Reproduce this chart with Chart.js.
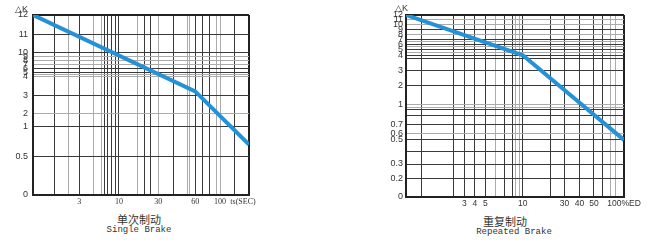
<!DOCTYPE html>
<html>
<head>
<meta charset="utf-8">
<script src="https://cdn.jsdelivr.net/npm/chart.js@4.4.1/dist/chart.umd.min.js"></script>
<style>
  body { margin: 0; background: #fff; width: 650px; height: 251px; position: relative; overflow: hidden; }
  canvas { position: absolute; top: 0; }
  .dk { position: absolute; font: 9px "Liberation Sans", Arial, sans-serif; line-height: 10px; color: #333; }
  .cn { position: absolute; width: 200px; text-align: center; font: 11px "Noto Sans CJK SC", sans-serif; line-height: 12px; color: #333; }
  .en { position: absolute; width: 200px; text-align: center; font: 9px "Liberation Mono", monospace; line-height: 10px; color: #333; }
</style>
</head>
<body>
<canvas id="singleChart" width="262" height="210" style="left:0"></canvas>
<canvas id="repeatedChart" width="280" height="212" style="left:370px"></canvas>

<div class="dk" style="left:15px;top:4px">△K</div>
<div class="dk" style="left:395px;top:3px">△K</div>
<div class="cn" style="left:39px;top:213px">单次制动</div>
<div class="en" style="left:39px;top:225px">Single Brake</div>
<div class="cn" style="left:405px;top:215px">重复制动</div>
<div class="en" style="left:414px;top:227px">Repeated Brake</div>

<script>
// Single brake (单次制动): ΔK against braking time ts (SEC)
const singleTime = [1, 60, 200];
const singleK = [12, 3.2, 0.7];
const singleXLabels = ['3', '10', '30', '60', '100', 'ts(SEC)'];
const singleXLabelAt = [3, 10, 30, 60, 100, 180];
const singleYLabels = ['0', '0.5', '1', '2', '3', '4', '5', '6', '7', '8', '9', '10', '11', '12'];

// Repeated brake (重复制动): ΔK against duty %ED
const repeatedDuty = [0.5, 10, 100];
const repeatedK = [12, 4, 0.5];
const repeatedXLabels = ['3', '4', '5', '10', '30', '40', '50', '100%ED'];
const repeatedXLabelAt = [3, 4, 5, 10, 30, 40, 50, 100];
const repeatedYLabels = ['0', '0.2', '0.3', '0.5', '0.6', '0.7', '1', '2', '3', '4', '5', '6', '7', '8', '9', '10', '11', '12'];

// printed paper grid of the original sheets: axis value -> fraction of the plot,
// plus which of the ruled lines are light grey
const PAPER = {
  singleChart: {
    x: {
      v: [1, 1.5, 2, 3, 4, 5, 6, 7, 8, 9, 10, 20, 22, 26, 30, 40, 50, 55, 60, 70, 80, 90, 100, 150, 200],
      f: [0, 0.099, 0.165, 0.214, 0.281, 0.315, 0.331, 0.347, 0.363, 0.381, 0.398, 0.484, 0.514, 0.546, 0.580,
          0.650, 0.714, 0.725, 0.751, 0.785, 0.819, 0.850, 0.866, 0.931, 1],
      light: [2, 4, 5, 20, 30, 50, 55, 90, 100]
    },
    y: {
      v: [0, 0.5, 1, 2, 3, 4, 4.5, 5, 6, 7, 8, 9, 10, 11, 12],
      f: [0, 0.215, 0.378, 0.455, 0.555, 0.657, 0.668, 0.679, 0.701, 0.725, 0.747, 0.771, 0.794, 0.894, 1],
      light: [2, 4, 4.5, 7, 8, 9]
    }
  },
  repeatedChart: {
    x: {
      v: [0.5, 1, 2, 3, 4, 5, 6, 7, 8, 9, 9.5, 10, 20, 30, 40, 50, 60, 70, 80, 100],
      f: [0, 0.072, 0.217, 0.268, 0.316, 0.364, 0.409, 0.452, 0.488, 0.504, 0.520, 0.536,
          0.665, 0.727, 0.796, 0.862, 0.902, 0.937, 0.963, 1],
      light: [6, 9, 9.5, 70, 80]
    },
    y: {
      v: [0, 0.2, 0.3, 0.4, 0.5, 0.6, 0.7, 0.8, 0.9, 0.95, 1, 2, 3, 3.8, 4, 4.5, 5, 5.5, 6, 6.5, 7, 8, 9, 10, 11, 12],
      f: [0, 0.100, 0.179, 0.247, 0.312, 0.349, 0.395, 0.448, 0.477, 0.492, 0.507, 0.614, 0.694, 0.761, 0.778,
          0.795, 0.811, 0.825, 0.839, 0.852, 0.866, 0.894, 0.922, 0.949, 0.977, 1],
      light: [0.6, 0.95, 1, 4.5, 5.5, 6.5, 8, 10, 11]
    }
  }
};

function toFrac(g, v) {
  if (v <= g.v[0]) return g.f[0];
  for (let i = 1; i < g.v.length; i++) {
    if (v <= g.v[i]) return g.f[i - 1] + (g.f[i] - g.f[i - 1]) * (v - g.v[i - 1]) / (g.v[i] - g.v[i - 1]);
  }
  return g.f[g.f.length - 1];
}

function fromFrac(g, d) {
  if (d <= g.f[0]) return g.v[0];
  for (let i = 1; i < g.f.length; i++) {
    if (d <= g.f[i]) return g.v[i - 1] + (g.v[i] - g.v[i - 1]) * (d - g.f[i - 1]) / (g.f[i] - g.f[i - 1]);
  }
  return g.v[g.v.length - 1];
}

// linear scale that follows the irregular ruling of the paper
class PaperScale extends Chart.LinearScale {
  paper() { return PAPER[this.chart.canvas.id][this.id]; }
  getPixelForValue(value) { return this.getPixelForDecimal(toFrac(this.paper(), value)); }
  getValueForPixel(pixel) { return fromFrac(this.paper(), this.getDecimalForPixel(pixel)); }
}
PaperScale.id = 'paper';
Chart.register(PaperScale);

function paperAxis(canvasId, axis, labels, labelAt, font, size) {
  const g = PAPER[canvasId][axis];
  const vmin = g.v[0], vmax = g.v[g.v.length - 1];
  return {
    type: 'paper',
    min: vmin,
    max: vmax,
    afterBuildTicks: (scale) => {
      const vals = Array.from(new Set(g.v.concat(labelAt))).sort((a, b) => a - b);
      scale.ticks = vals.map(v => ({ value: v }));
    },
    afterFit: (scale) => {
      if (axis === 'y') scale.width = size; else scale.height = size;
    },
    border: { display: true, color: '#222', width: 2 },
    grid: {
      drawTicks: false,
      color: (ctx) => {
        const v = ctx.tick ? ctx.tick.value : null;
        if (g.v.indexOf(v) < 0) return 'rgba(0,0,0,0)';
        if (v === vmin || v === vmax) return '#222';
        return g.light.indexOf(v) >= 0 ? '#ababab' : '#3a3a3a';
      },
      lineWidth: (ctx) => {
        const v = ctx.tick ? ctx.tick.value : null;
        return (v === vmin || v === vmax) ? 2 : 1;
      }
    },
    ticks: {
      autoSkip: false,
      maxRotation: 0,
      minRotation: 0,
      padding: axis === 'y' ? font.pad : 2,
      color: '#333',
      font: { family: font.family, size: font.size },
      callback: (value) => {
        const i = labelAt.indexOf(value);
        return i >= 0 ? labels[i] : '';
      }
    }
  };
}

function makeChart(canvasId, xs, ys, xAxis, yAxis, padding) {
  const ctx = document.getElementById(canvasId).getContext('2d');
  return new Chart(ctx, {
    type: 'line',
    data: {
      datasets: [{
        data: xs.map((x, i) => ({ x: x, y: ys[i] })),
        borderColor: '#2591d6',
        borderWidth: 4,
        pointRadius: 0,
        tension: 0,
        fill: false
      }]
    },
    options: {
      responsive: false,
      animation: false,
      devicePixelRatio: 1,
      layout: { padding: padding },
      plugins: { legend: { display: false }, tooltip: { enabled: false } },
      scales: { x: xAxis, y: yAxis }
    }
  });
}

const sans = 'Liberation Sans, Arial, sans-serif';
const serif = 'Liberation Serif, Times New Roman, serif';

makeChart('singleChart', singleTime, singleK,
  paperAxis('singleChart', 'x', singleXLabels, singleXLabelAt, { family: serif, size: 8 }, 15),
  paperAxis('singleChart', 'y', singleYLabels, singleYLabels.map(Number), { family: sans, size: 9, pad: 5 }, 33),
  { top: 15, right: 13, left: 0, bottom: 0 });

makeChart('repeatedChart', repeatedDuty, repeatedK,
  paperAxis('repeatedChart', 'x', repeatedXLabels, repeatedXLabelAt, { family: sans, size: 8.5 }, 15.5),
  paperAxis('repeatedChart', 'y', repeatedYLabels, repeatedYLabels.map(Number), { family: sans, size: 9, pad: 3 }, 36),
  { top: 15, right: 26, left: 0, bottom: 0 });
</script>
</body>
</html>
